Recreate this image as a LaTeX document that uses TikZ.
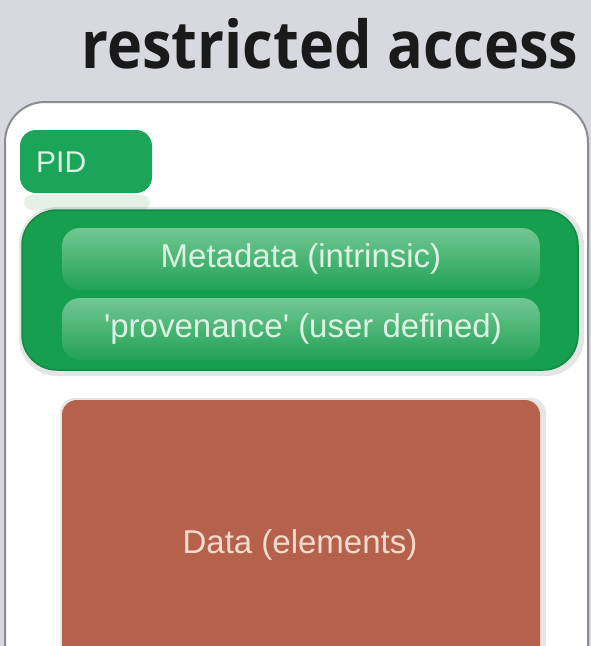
\documentclass[tikz,border=0pt]{standalone}
\usepackage{fontspec}
\setmainfont{Liberation Sans}
\newfontfamily\titlefont{Open Sans}
\usetikzlibrary{positioning}
\definecolor{bggray}{HTML}{D8D9DE}
\definecolor{panelline}{HTML}{8A8C90}
\definecolor{pidgreen}{HTML}{1BA55B}
\definecolor{biggreen}{HTML}{179F50}
\definecolor{bigedge}{HTML}{128A44}
\definecolor{innertop}{HTML}{72C792}
\definecolor{innerbot}{HTML}{22A257}
\definecolor{greentext}{HTML}{DDF2E2}
\definecolor{datared}{HTML}{B5614C}
\definecolor{datatext}{HTML}{F3DCCD}
\definecolor{titletext}{HTML}{1A1A1A}
\tikzset{
  innerbox/.style={rounded corners=18pt, top color=innertop, bottom color=innerbot, draw=none},
  greenlabel/.style={text=greentext, font=\fontsize{33}{36}\selectfont, inner sep=0pt},
  shadowbox/.style={fill=black, opacity=0.10, draw=none}
}
\begin{document}
\begin{tikzpicture}[x=1pt,y=-1pt]
\useasboundingbox (0,0) rectangle (591,646);
\fill[bggray] (0,0) rectangle (591,646);
% title
\node[anchor=base, text=titletext, inner sep=0pt, font=\titlefont\bfseries\fontsize{66}{70}\selectfont] (title) at (330,68) {\scalebox{0.9}[1]{restricted access}};
% white panel
\draw[panelline, line width=2pt, fill=white, rounded corners=40pt] (5,102) rectangle (588,700);
% PID
\fill[green!30!gray, opacity=0.15, rounded corners=8pt] (24,195) rectangle (150,210);
\path[fill=pidgreen, rounded corners=16pt] (20,130) rectangle (152,193);
\node[anchor=west, greenlabel, font=\fontsize{30}{34}\selectfont] (pid) at (36,162) {PID};
% big green box
\fill[shadowbox, rounded corners=38pt] (19,207) rectangle (584,376);
\draw[fill=biggreen, draw=bigedge, line width=1.5pt, rounded corners=35pt] (22,210) rectangle (578,370);
\path[innerbox] (62,228) rectangle (540,290);
\path[innerbox] (62,298) rectangle (540,360);
\node[greenlabel] (meta) at (301,259) {Metadata (intrinsic)};
\node[greenlabel] (prov) at (303,329) {\textquotesingle provenance\textquotesingle\ (user defined)};
% data box
\fill[shadowbox, rounded corners=15pt] (60,398) rectangle (546,680);
\path[fill=datared, rounded corners=15pt] (62,400) rectangle (540,680);
\node[greenlabel, text=datatext] (data) at (300,545) {Data (elements)};
\end{tikzpicture}
\end{document}
